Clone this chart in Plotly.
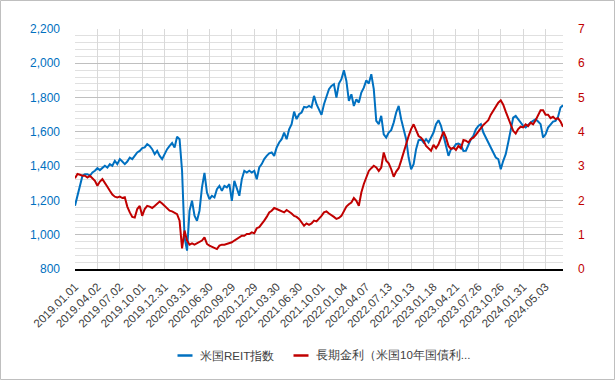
import plotly.graph_objects as go

SAMPLE_STEP = 7          # trading days between samples
LABEL_STEP = 63          # trading days between x tick labels

tick_labels = [
    "2019.01.01", "2019.04.02", "2019.07.02", "2019.10.01", "2019.12.31",
    "2020.03.31", "2020.06.30", "2020.09.29", "2020.12.29", "2021.03.30",
    "2021.06.30", "2021.10.01", "2022.01.04", "2022.04.07", "2022.07.13",
    "2022.10.13", "2023.01.18", "2023.04.21", "2023.07.26", "2023.10.26",
    "2024.01.31", "2024.05.03",
]

reit_index = [
    1169, 1227, 1276, 1344, 1353, 1353, 1344, 1363, 1373, 1388,
    1377, 1392, 1402, 1392, 1412, 1402, 1431, 1412, 1441, 1427,
    1412, 1427, 1450, 1441, 1460, 1480, 1489, 1505, 1509, 1528,
    1518, 1499, 1470, 1489, 1460, 1441, 1470, 1499, 1518, 1535,
    1509, 1571, 1557, 1373, 984, 907, 1140, 1198, 1111, 1081,
    1140, 1276, 1360, 1246, 1208, 1227, 1217, 1266, 1285, 1256,
    1285, 1276, 1295, 1198, 1314, 1276, 1227, 1324, 1373, 1363,
    1373, 1363, 1373, 1324, 1392, 1412, 1441, 1460, 1475, 1480,
    1460, 1509, 1538, 1557, 1596, 1557, 1615, 1645, 1718, 1674,
    1703, 1713, 1746, 1742, 1751, 1742, 1810, 1761, 1726, 1699,
    1761, 1810, 1849, 1868, 1878, 1800, 1882, 1907, 1959, 1897,
    1781, 1819, 1751, 1790, 1771, 1829, 1858, 1900, 1882, 1936,
    1849, 1664, 1645, 1693, 1586, 1567, 1596, 1610, 1654, 1713,
    1751, 1674, 1615, 1557, 1450, 1382, 1412, 1499, 1551, 1557,
    1538, 1557, 1538, 1567, 1596, 1645, 1668, 1635, 1577, 1528,
    1460, 1499, 1505, 1528, 1532, 1524, 1489, 1490, 1528, 1557,
    1577, 1615, 1635, 1645, 1596, 1567, 1538, 1513, 1480, 1450,
    1441, 1382, 1431, 1470, 1538, 1606, 1683, 1693, 1674, 1648,
    1635, 1625, 1641, 1654, 1664, 1674, 1660, 1645, 1567, 1586,
    1625, 1645, 1660, 1664, 1687, 1742, 1755,
]

us10y_yield = [
    2.65, 2.77, 2.75, 2.72, 2.72, 2.67, 2.72, 2.65, 2.57, 2.43,
    2.55, 2.62, 2.52, 2.40, 2.28, 2.17, 2.11, 2.09, 2.11, 2.07,
    2.09, 1.82, 1.65, 1.52, 1.50, 1.75, 1.84, 1.55, 1.75, 1.84,
    1.82, 1.78, 1.84, 1.91, 1.97, 1.91, 1.84, 1.80, 1.70, 1.68,
    1.65, 1.60, 1.41, 0.60, 1.12, 0.83, 0.71, 0.75, 0.71, 0.75,
    0.78, 0.83, 0.92, 0.73, 0.68, 0.65, 0.61, 0.58, 0.68, 0.71,
    0.71, 0.73, 0.75, 0.78, 0.83, 0.87, 0.92, 0.97, 0.97, 1.02,
    1.02, 1.07, 1.04, 1.19, 1.22, 1.30, 1.41, 1.52, 1.65, 1.70,
    1.78, 1.75, 1.72, 1.70, 1.65, 1.72, 1.68, 1.62, 1.55, 1.52,
    1.46, 1.36, 1.26, 1.33, 1.29, 1.33, 1.41, 1.39, 1.46, 1.55,
    1.65, 1.68, 1.62, 1.58, 1.52, 1.46, 1.49, 1.55, 1.68, 1.82,
    1.89, 1.94, 2.07, 1.99, 1.84, 2.23, 2.48, 2.65, 2.86, 2.94,
    3.01, 2.96, 2.86, 2.96, 3.40, 3.16, 3.08, 2.91, 2.69, 2.84,
    2.94, 3.16, 3.40, 3.69, 3.88, 4.08, 4.22, 4.05, 3.88, 3.83,
    3.74, 3.59, 3.52, 3.45, 3.62, 3.52, 3.64, 3.83, 4.01, 3.83,
    3.59, 3.50, 3.54, 3.47, 3.59, 3.52, 3.76, 3.74, 3.69, 3.79,
    3.83, 3.91, 4.01, 4.08, 4.20, 4.27, 4.34, 4.50, 4.63, 4.76,
    4.85, 4.92, 4.79, 4.59, 4.40, 4.17, 4.03, 3.95, 4.08, 4.15,
    4.13, 4.22, 4.17, 4.27, 4.22, 4.34, 4.51, 4.63, 4.63, 4.50,
    4.50, 4.40, 4.44, 4.37, 4.40, 4.30, 4.15,
]

series_names = ["米国REIT指数", "長期金利（米国10年国債利..."]

BLUE = "#0070C0"
RED = "#C00000"
FONT = "Liberation Sans, Arial, sans-serif"

x_reit = [i * SAMPLE_STEP for i in range(len(reit_index))]
x_yield = [i * SAMPLE_STEP for i in range(len(us10y_yield))]
tick_vals = [i * LABEL_STEP for i in range(len(tick_labels))]
x_end = x_reit[-1]

fig = go.Figure()
fig.add_trace(go.Scatter(x=x_reit, y=reit_index, name=series_names[0], mode="lines",
                         line=dict(color=BLUE, width=2), yaxis="y", showlegend=False))
fig.add_trace(go.Scatter(x=x_yield, y=us10y_yield, name=series_names[1], mode="lines",
                         line=dict(color=RED, width=2), yaxis="y2", showlegend=False))

W, H = 615, 380
ML, MR, MT, MB = 75, 52, 29, 111
pw, ph = W - ML - MR, H - MT - MB


def px_x(px):
    return (px - ML) / pw


def px_y(py):
    return (H - MB - py) / ph


# legend drawn as short line swatches + text (Excel-style short swatches)
legend_items = [
    (series_names[0], BLUE, 177.5, 197.5),
    (series_names[1], RED, 293.5, 314.0),
]
LEG_Y = 355.5
shapes = [dict(type="rect", xref="paper", yref="paper",
               x0=px_x(0.5), x1=px_x(W - 0.5), y0=px_y(H - 0.5), y1=px_y(0.5),
               line=dict(color="#BFBFBF", width=1), fillcolor="rgba(0,0,0,0)",
               layer="below")]
annotations = []
for name, color, lx, tx in legend_items:
    shapes.append(dict(type="line", xref="paper", yref="paper",
                       x0=px_x(lx), x1=px_x(lx + 15), y0=px_y(LEG_Y), y1=px_y(LEG_Y),
                       line=dict(color=color, width=2.5)))
    annotations.append(dict(text=name, xref="paper", yref="paper",
                            x=px_x(tx), y=px_y(LEG_Y), xanchor="left", yanchor="middle",
                            showarrow=False, font=dict(size=11.5, color="#404040")))

fig.update_layout(
    width=W, height=H,
    margin=dict(l=ML, r=MR, t=MT, b=MB, pad=0, autoexpand=False),
    paper_bgcolor="white", plot_bgcolor="white",
    font=dict(family=FONT, size=12, color="#404040"),
    showlegend=False,
    hovermode=False,
    xaxis=dict(
        range=[0, x_end], tickmode="array", tickvals=tick_vals, ticktext=tick_labels,
        tickangle=-45, tickfont=dict(size=11.5, color="#404040"),
        showgrid=True, gridcolor="#D9D9D9", gridwidth=1,
        showline=True, linecolor="#000000", linewidth=1.5,
        ticks="", zeroline=False, ticklabelstandoff=5,
    ),
    yaxis=dict(
        range=[800, 2200], tickmode="linear", tick0=800, dtick=200,
        tickformat=",d", tickfont=dict(size=12, color=BLUE),
        showgrid=True, gridcolor="#BFBFBF", gridwidth=1,
        minor=dict(dtick=40, showgrid=True, gridcolor="#E0E0E0", gridwidth=1),
        showline=False, zeroline=False, ticks="", ticklabelstandoff=14,
    ),
    yaxis2=dict(
        range=[0, 7], tickmode="linear", tick0=0, dtick=1,
        tickfont=dict(size=12, color=RED), overlaying="y", side="right",
        showgrid=False, showline=False, zeroline=False, ticks="", ticklabelstandoff=14,
    ),
    shapes=shapes,
    annotations=annotations,
)

fig.write_html("out.html", config={"displayModeBar": False, "staticPlot": True},
               post_script="document.body.style.margin='0';document.body.style.padding='0';")
